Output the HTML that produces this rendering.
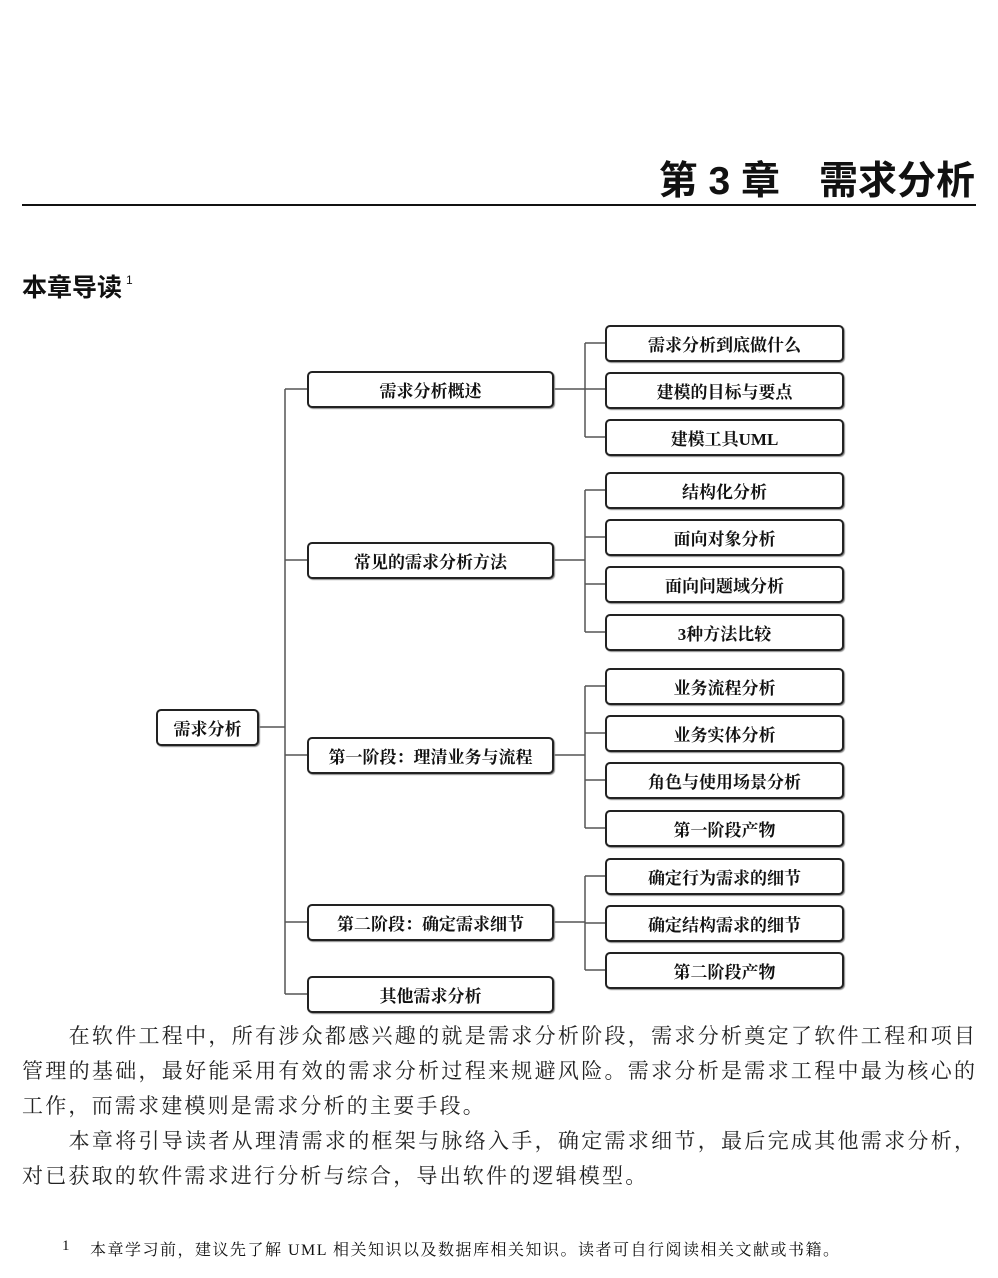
<!DOCTYPE html>
<html><head><meta charset="utf-8"><style>
body{margin:0;width:998px;height:1278px;background:#fff;position:relative;overflow:hidden;font-family:"Liberation Serif","Noto Serif CJK SC",serif;color:#111}
.t{position:absolute}
.box{position:absolute;border:2px solid #222;border-radius:5px;box-sizing:border-box;height:37px;display:flex;align-items:center;justify-content:center;font-size:17px;font-weight:bold;background:#fff;box-shadow:1px 1px 1px #888}
.l2{left:307px;width:247px}
.l3{left:605px;width:239px}
.ln{position:absolute;left:22px;width:953px;font-size:21px;height:35px;line-height:35px;text-align:justify;text-align-last:justify;white-space:nowrap;color:#222}
.ln.last{text-align-last:left;letter-spacing:2.2px}
</style></head><body>
<div class="t" style="right:23px;top:150px;font-family:'Liberation Sans','Noto Sans CJK SC',sans-serif;font-size:39px;font-weight:bold;">第 3 章　需求分析</div>
<div class="t" style="left:22px;top:204px;width:954px;height:2px;background:#111"></div>
<div class="t" style="left:22px;top:268px;font-family:'Liberation Sans','Noto Sans CJK SC',sans-serif;font-size:25px;font-weight:bold;">本章导读<sup style="font-size:12px;font-weight:normal;vertical-align:12px;margin-left:4px">1</sup></div>
<svg class="t" style="left:0;top:0" width="998" height="1278">
<g stroke="#555" stroke-width="1.5" fill="none">
<line x1="258" y1="727" x2="285" y2="727"/>
<line x1="285" y1="389" x2="285" y2="994"/>
<line x1="285" y1="389" x2="307" y2="389"/>
<line x1="285" y1="560" x2="307" y2="560"/>
<line x1="285" y1="755" x2="307" y2="755"/>
<line x1="285" y1="922" x2="307" y2="922"/>
<line x1="285" y1="994" x2="307" y2="994"/>
<line x1="554" y1="389" x2="605" y2="389"/>
<line x1="554" y1="560" x2="585" y2="560"/>
<line x1="554" y1="755" x2="585" y2="755"/>
<line x1="554" y1="922" x2="585" y2="922"/>
<line x1="585" y1="343" x2="585" y2="437"/>
<line x1="585" y1="490" x2="585" y2="632"/>
<line x1="585" y1="686" x2="585" y2="828"/>
<line x1="585" y1="876" x2="585" y2="970"/>
<g>
<line x1="585" y1="343" x2="605" y2="343"/><line x1="585" y1="437" x2="605" y2="437"/>
<line x1="585" y1="490" x2="605" y2="490"/><line x1="585" y1="537" x2="605" y2="537"/><line x1="585" y1="584" x2="605" y2="584"/><line x1="585" y1="632" x2="605" y2="632"/>
<line x1="585" y1="686" x2="605" y2="686"/><line x1="585" y1="733" x2="605" y2="733"/><line x1="585" y1="780" x2="605" y2="780"/><line x1="585" y1="828" x2="605" y2="828"/>
<line x1="585" y1="876" x2="605" y2="876"/><line x1="585" y1="923" x2="605" y2="923"/><line x1="585" y1="970" x2="605" y2="970"/>
</g></g></svg>
<div class="box" style="left:156px;width:103px;top:709px">需求分析</div>
<div class="box l2" style="top:371px">需求分析概述</div>
<div class="box l2" style="top:542px">常见的需求分析方法</div>
<div class="box l2" style="top:737px">第一阶段：理清业务与流程</div>
<div class="box l2" style="top:904px">第二阶段：确定需求细节</div>
<div class="box l2" style="top:976px">其他需求分析</div>
<div class="box l3" style="top:325px">需求分析到底做什么</div>
<div class="box l3" style="top:372px">建模的目标与要点</div>
<div class="box l3" style="top:419px">建模工具UML</div>
<div class="box l3" style="top:472px">结构化分析</div>
<div class="box l3" style="top:519px">面向对象分析</div>
<div class="box l3" style="top:566px">面向问题域分析</div>
<div class="box l3" style="top:614px">3种方法比较</div>
<div class="box l3" style="top:668px">业务流程分析</div>
<div class="box l3" style="top:715px">业务实体分析</div>
<div class="box l3" style="top:762px">角色与使用场景分析</div>
<div class="box l3" style="top:810px">第一阶段产物</div>
<div class="box l3" style="top:858px">确定行为需求的细节</div>
<div class="box l3" style="top:905px">确定结构需求的细节</div>
<div class="box l3" style="top:952px">第二阶段产物</div>
<div class="ln" style="top:1019px">　　在软件工程中，所有涉众都感兴趣的就是需求分析阶段，需求分析奠定了软件工程和项目</div>
<div class="ln" style="top:1054px">管理的基础，最好能采用有效的需求分析过程来规避风险。需求分析是需求工程中最为核心的</div>
<div class="ln last" style="top:1089px">工作，而需求建模则是需求分析的主要手段。</div>
<div class="ln" style="top:1124px">　　本章将引导读者从理清需求的框架与脉络入手，确定需求细节，最后完成其他需求分析，</div>
<div class="ln last" style="top:1159px">对已获取的软件需求进行分析与综合，导出软件的逻辑模型。</div>
<div class="t" style="left:62px;top:1238px;font-size:15px">1</div>
<div class="t" style="left:90px;top:1237px;font-size:16px;letter-spacing:1.5px">本章学习前，建议先了解 UML 相关知识以及数据库相关知识。读者可自行阅读相关文献或书籍。</div>
</body></html>
